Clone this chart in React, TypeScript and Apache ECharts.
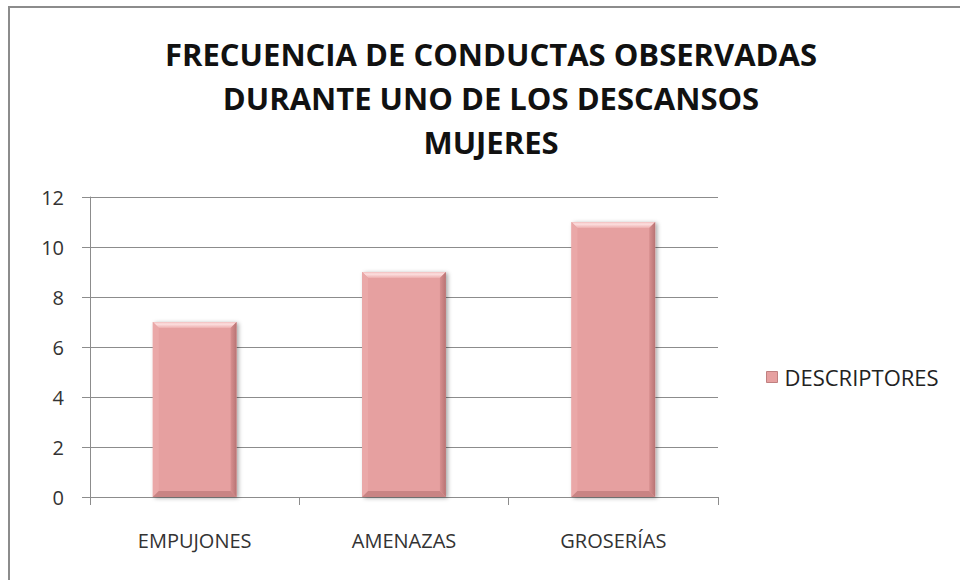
import React, { useEffect, useRef } from "react";
import * as echarts from "echarts";

const titleLines = [
  "FRECUENCIA DE CONDUCTAS OBSERVADAS",
  "DURANTE UNO DE LOS DESCANSOS",
  "MUJERES",
];
const categories = ["EMPUJONES", "AMENAZAS", "GROSERÍAS"];
const seriesName = "DESCRIPTORES";
const values = [7, 9, 11];
const yMin = 0;
const yMax = 12;
const yStep = 2;

const FONT = "'Open Sans', 'DejaVu Sans', sans-serif";

export default function App() {
  const ref = useRef<HTMLDivElement>(null);
  useEffect(() => {
    if (!ref.current) return;
    const chart = echarts.init(ref.current, null, { renderer: "svg" });
    const option: any = {
      animation: false,
      backgroundColor: "#ffffff",
      textStyle: { fontFamily: FONT },
      graphic: [
        {
          type: "rect",
          shape: { x: 9, y: 7, width: 1000, height: 620 },
          style: { fill: "none", stroke: "#8c8c8c", lineWidth: 2 },
          silent: true,
        },
        {
          type: "text",
          x: 491,
          y: 32,
          style: {
            text: titleLines.join("\n"),
            fontFamily: FONT,
            fontWeight: "bold",
            fontSize: 31,
            lineHeight: 44,
            fill: "#111111",
            align: "center",
            verticalAlign: "top",
          },
        },
      ],
      legend: {
        data: [seriesName],
        left: 761,
        top: 361,
        icon: "rect",
        itemWidth: 11,
        itemHeight: 11,
        itemGap: 6,
        itemStyle: { color: "#E6A0A0", borderColor: "#C08080", borderWidth: 1 },
        textStyle: { fontFamily: FONT, fontSize: 22, color: "#222222", padding: [0, 0, 0, 2] },
      },
      grid: { left: 90, top: 197, right: 242, bottom: 83 },
      xAxis: {
        type: "category",
        data: categories,
        axisLine: { lineStyle: { color: "#8c8c8c", width: 1 } },
        axisTick: { show: true, length: 8, alignWithLabel: false, lineStyle: { color: "#8c8c8c" } },
        axisLabel: { margin: 33, fontSize: 20, color: "#333333", fontFamily: FONT },
        splitLine: { show: false },
      },
      yAxis: {
        type: "value",
        min: yMin,
        max: yMax,
        interval: yStep,
        axisLine: { show: true, lineStyle: { color: "#8c8c8c", width: 1 } },
        axisTick: { show: true, length: 8, lineStyle: { color: "#8c8c8c" } },
        axisLabel: { margin: 26, fontSize: 20, color: "#333333", fontFamily: FONT },
        splitLine: { show: true, lineStyle: { color: "#8c8c8c", width: 1 } },
      },
      series: [
        {
          name: seriesName,
          type: "custom",
          itemStyle: { color: "#E6A0A0" },
          encode: { x: 0, y: 1 },
          data: values.map((v, i) => [i, v]),
          renderItem: (params: any, api: any) => {
            const xi = api.value(0);
            const yv = api.value(1);
            const top = api.coord([xi, yv]);
            const bot = api.coord([xi, 0]);
            const w = api.size([1, 0])[0] * 0.4;
            const x0 = top[0] - w / 2;
            const x1 = top[0] + w / 2;
            const y0 = top[1];
            const y1 = bot[1];
            const b = 6;
            return {
              type: "group",
              children: [
                {
                  type: "rect",
                  shape: { x: x0, y: y0, width: w, height: y1 - y0 },
                  style: {
                    fill: "#E6A0A0",
                    shadowColor: "rgba(0,0,0,0.35)",
                    shadowBlur: 4,
                    shadowOffsetX: 2,
                    shadowOffsetY: 1,
                  },
                },
                {
                  type: "polygon",
                  shape: { points: [[x0, y0], [x1, y0], [x1 - b, y0 + b], [x0 + b, y0 + b]] },
                  style: {
                    fill: new echarts.graphic.LinearGradient(0, 0, 0, 1, [
                      { offset: 0, color: "#F2BEBE" },
                      { offset: 0.35, color: "#FCE0E0" },
                      { offset: 1, color: "#EDAEAE" },
                    ]),
                  },
                },
                {
                  type: "polygon",
                  shape: { points: [[x0, y0], [x0 + b, y0 + b], [x0 + b, y1 - b], [x0, y1]] },
                  style: { fill: "#EAA8A8" },
                },
                {
                  type: "polygon",
                  shape: { points: [[x1, y0], [x1, y1], [x1 - b, y1 - b], [x1 - b, y0 + b]] },
                  style: {
                    fill: new echarts.graphic.LinearGradient(0, 0, 1, 0, [
                      { offset: 0, color: "#D89090" },
                      { offset: 1, color: "#B87474" },
                    ]),
                  },
                },
                {
                  type: "polygon",
                  shape: { points: [[x0, y1], [x0 + b, y1 - b], [x1 - b, y1 - b], [x1, y1]] },
                  style: { fill: "#C98484" },
                },
              ],
            };
          },
        },
      ],
    };
    chart.setOption(option);
    return () => chart.dispose();
  }, []);
  return (
    <div
      ref={ref}
      style={{ position: "fixed", left: 0, top: 0, width: 960, height: 580 }}
    />
  );
}
